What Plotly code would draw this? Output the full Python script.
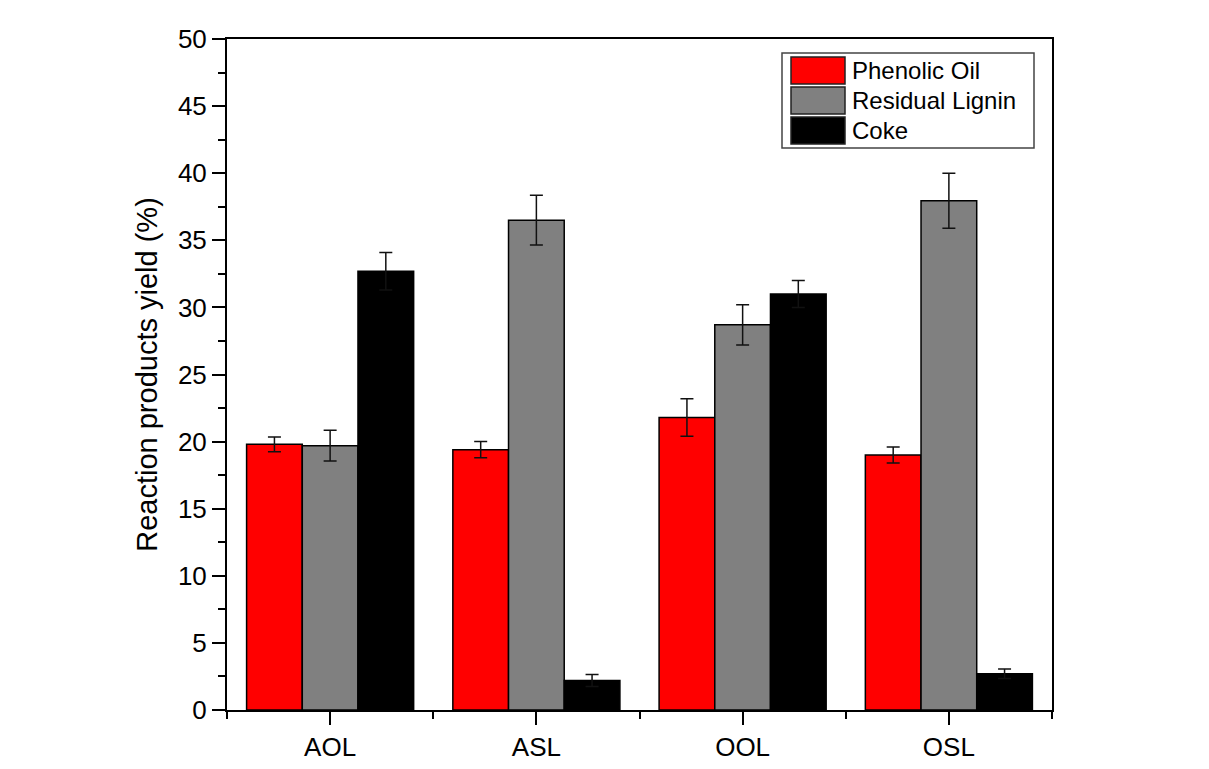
import plotly.graph_objects as go

categories = ["AOL", "ASL", "OOL", "OSL"]
series_names = ["Phenolic Oil", "Residual Lignin", "Coke"]
phenolic_oil = [19.8, 19.4, 21.8, 19.0]
phenolic_oil_err = [0.55, 0.6, 1.4, 0.6]
residual_lignin = [19.7, 36.5, 28.7, 37.95]
residual_lignin_err = [1.15, 1.85, 1.5, 2.05]
coke = [32.7, 2.2, 31.0, 2.7]
coke_err = [1.4, 0.45, 1.0, 0.35]
colors = ["#FF0000", "#808080", "#000000"]
y_ticks = [0, 5, 10, 15, 20, 25, 30, 35, 40, 45, 50]

values = [phenolic_oil, residual_lignin, coke]
errors = [phenolic_oil_err, residual_lignin_err, coke_err]
xpos = list(range(len(categories)))

FONT = "Liberation Sans, Arial, sans-serif"
W, H = 1209, 769
OFF = 8  # default page body margin
L, R, T, B = 227, 1052, 39, 710

fig = go.Figure()
for name, vals, errs, col in zip(series_names, values, errors, colors):
    fig.add_trace(go.Bar(
        x=xpos, y=vals, name=name,
        marker=dict(color=col, line=dict(color="#000000", width=1.5)),
        error_y=dict(type="data", array=errs, visible=True, color="#111111",
                     thickness=1.5, width=6.5),
        showlegend=False,
    ))

def px_x(p):
    return (p - L) / (R - L)

def px_y(p):
    return (B - p) / (B - T)

shapes = []
annotations = []
# legend box
shapes.append(dict(type="rect", xref="paper", yref="paper",
                   x0=px_x(782), x1=px_x(1034), y0=px_y(148), y1=px_y(53),
                   line=dict(color="#444444", width=1.5), fillcolor="white", layer="above"))
row_tops = [57, 87, 117]
for i, (name, col) in enumerate(zip(series_names, colors)):
    top = row_tops[i]
    shapes.append(dict(type="rect", xref="paper", yref="paper",
                       x0=px_x(791), x1=px_x(845), y0=px_y(top + 27), y1=px_y(top),
                       line=dict(color="#222222", width=1.5), fillcolor=col, layer="above"))
    annotations.append(dict(xref="paper", yref="paper", x=px_x(850), y=px_y(top + 13.5),
                            text=name, showarrow=False, xanchor="left", yanchor="middle",
                            font=dict(family=FONT, size=24, color="black")))

fig.update_layout(
    width=W, height=H,
    margin=dict(l=L - OFF, r=W - (R - OFF), t=T - OFF, b=H - (B - OFF)),
    paper_bgcolor="white", plot_bgcolor="white",
    barmode="group", bargap=0.19, bargroupgap=0,
    font=dict(family=FONT, size=26, color="black"),
    shapes=shapes, annotations=annotations,
    xaxis=dict(
        range=[-0.5, len(categories) - 0.5],
        tickmode="array", tickvals=xpos, ticktext=categories,
        ticks="outside", ticklen=13, tickwidth=2, tickcolor="black",
        showline=True, linewidth=2, linecolor="black", mirror=True,
        showgrid=False, zeroline=False,
        tickfont=dict(family=FONT, size=26),
        minor=dict(tickmode="linear", tick0=-0.5, dtick=1, ticks="outside",
                   ticklen=7, tickwidth=2, tickcolor="black", showgrid=False),
    ),
    yaxis=dict(
        range=[0, 50],
        tickmode="array", tickvals=y_ticks,
        ticks="outside", ticklen=13, tickwidth=2, tickcolor="black",
        showline=True, linewidth=2, linecolor="black", mirror=True,
        showgrid=False, zeroline=False,
        tickfont=dict(family=FONT, size=26),
        minor=dict(tickmode="linear", tick0=2.5, dtick=5, ticks="outside",
                   ticklen=7, tickwidth=2, tickcolor="black", showgrid=False),
        title=dict(text="Reaction products yield (%)", standoff=12,
                   font=dict(family=FONT, size=29)),
    ),
)

fig.write_html("out.html")
